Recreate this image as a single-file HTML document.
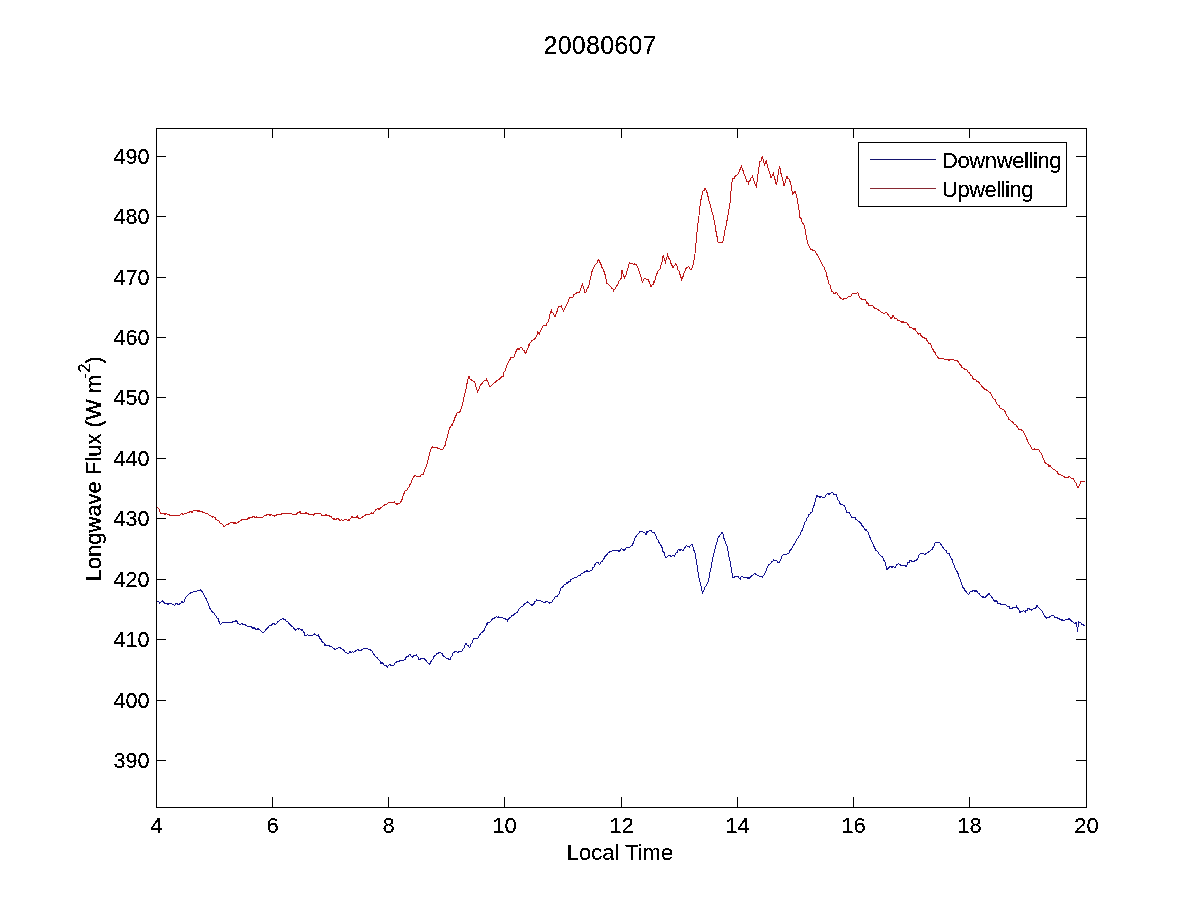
<!DOCTYPE html>
<html><head><meta charset="utf-8"><title>20080607</title>
<style>html,body{margin:0;padding:0;background:#fff;width:1200px;height:900px;overflow:hidden}</style>
</head><body><svg width="1200" height="900" viewBox="0 0 1200 900" style="display:block"><defs><filter id="al" x="0" y="0" width="1200" height="900" filterUnits="userSpaceOnUse" color-interpolation-filters="sRGB"><feComponentTransfer><feFuncA type="discrete" tableValues="0 0 1 1 1"/></feComponentTransfer></filter></defs><rect width="1200" height="900" fill="#fff"/><rect x="156.5" y="128.5" width="930" height="679" fill="#fff" stroke="#000" stroke-width="1"/><path d="M156 156.5H166M1076 156.5H1086M156 216.5H166M1076 216.5H1086M156 277.5H166M1076 277.5H1086M156 337.5H166M1076 337.5H1086M156 397.5H166M1076 397.5H1086M156 458.5H166M1076 458.5H1086M156 518.5H166M1076 518.5H1086M156 579.5H166M1076 579.5H1086M156 639.5H166M1076 639.5H1086M156 700.5H166M1076 700.5H1086M156 760.5H166M1076 760.5H1086M156.5 797V807M156.5 129V138M272.5 797V807M272.5 129V138M388.5 797V807M388.5 129V138M504.5 797V807M504.5 129V138M621.5 797V807M621.5 129V138M737.5 797V807M737.5 129V138M853.5 797V807M853.5 129V138M969.5 797V807M969.5 129V138M1086.5 797V807M1086.5 129V138" stroke="#000" stroke-width="1" fill="none" shape-rendering="crispEdges"/><path d="M156.9 600.7 L157.0 601.1 L158.0 601.9 L159.0 602.0 L159.4 603.2 L160.0 602.9 L161.0 601.7 L162.0 601.6 L162.5 601.1 L163.0 601.6 L164.0 602.5 L165.0 603.7 L165.6 603.9 L166.0 603.9 L167.0 603.7 L168.0 604.2 L169.0 603.8 L170.0 603.7 L171.0 603.6 L172.0 604.2 L173.0 604.6 L174.0 604.7 L174.4 605.2 L175.0 605.4 L176.0 603.4 L177.0 603.7 L178.0 604.4 L178.8 604.3 L179.0 604.3 L180.0 603.4 L181.0 603.4 L181.9 601.3 L182.0 601.4 L183.0 603.1 L183.8 602.6 L184.0 602.2 L185.0 598.9 L185.6 597.3 L186.0 597.2 L187.0 596.3 L188.0 594.7 L189.0 594.1 L190.0 593.5 L191.0 592.5 L192.0 592.4 L193.0 592.0 L194.0 591.5 L194.4 591.2 L195.0 591.5 L196.0 591.6 L197.0 591.2 L197.5 590.9 L198.0 591.2 L199.0 590.1 L200.0 590.4 L200.6 589.6 L201.0 590.7 L201.9 591.2 L202.0 590.8 L203.0 593.2 L204.0 595.2 L205.0 597.2 L206.0 598.4 L206.2 599.2 L207.0 601.2 L208.0 603.2 L209.0 605.8 L210.0 608.4 L210.6 609.2 L211.0 610.0 L212.0 611.8 L213.0 612.3 L214.0 613.3 L215.0 615.1 L216.0 616.3 L217.0 617.9 L218.0 618.5 L218.1 618.5 L219.0 621.4 L220.0 624.3 L221.0 624.2 L222.0 623.3 L223.0 621.7 L223.1 622.3 L224.0 622.9 L225.0 622.7 L226.0 622.0 L227.0 622.3 L227.5 622.3 L228.0 622.5 L229.0 622.7 L230.0 622.4 L231.0 622.2 L232.0 622.1 L232.5 622.4 L233.0 621.0 L234.0 621.7 L235.0 621.4 L236.0 620.4 L236.2 621.0 L237.0 621.5 L238.0 623.4 L238.8 623.7 L239.0 624.1 L240.0 624.4 L241.0 623.9 L242.0 623.3 L242.5 623.5 L243.0 624.9 L244.0 624.4 L245.0 624.6 L246.0 625.5 L246.2 625.6 L247.0 626.2 L248.0 626.1 L249.0 626.3 L250.0 626.2 L251.0 627.1 L251.2 626.7 L252.0 627.7 L253.0 628.6 L254.0 627.7 L255.0 628.6 L256.0 629.3 L257.0 630.3 L258.0 628.5 L258.8 628.8 L259.0 629.5 L260.0 629.8 L261.0 630.9 L262.0 631.9 L263.0 633.3 L263.1 633.0 L264.0 632.2 L265.0 630.9 L266.0 629.4 L267.0 628.6 L268.0 627.1 L268.1 627.5 L269.0 626.2 L270.0 625.5 L271.0 626.0 L272.0 624.4 L273.0 623.7 L273.8 623.2 L274.0 623.3 L275.0 625.0 L276.0 624.2 L277.0 623.1 L278.0 621.4 L278.8 621.4 L279.0 620.8 L280.0 619.9 L281.0 619.3 L282.0 618.9 L282.5 619.0 L283.0 618.5 L284.0 619.8 L285.0 619.3 L286.0 621.0 L287.0 622.0 L287.5 621.9 L288.0 622.1 L289.0 623.5 L290.0 624.7 L291.0 625.7 L291.2 625.9 L292.0 626.5 L293.0 627.1 L294.0 628.3 L295.0 629.4 L295.6 630.0 L296.0 629.7 L297.0 629.2 L297.5 628.5 L298.0 629.3 L299.0 628.8 L300.0 628.7 L301.0 629.8 L302.0 630.3 L302.5 629.8 L303.0 630.9 L304.0 632.4 L305.0 635.4 L306.0 635.6 L307.0 634.8 L308.0 635.1 L308.8 635.6 L309.0 634.8 L310.0 635.4 L311.0 634.8 L312.0 635.4 L313.0 635.1 L313.8 634.0 L314.0 634.5 L315.0 633.7 L316.0 635.2 L317.0 634.9 L318.0 635.2 L318.8 634.8 L319.0 636.5 L320.0 638.7 L321.0 639.4 L321.9 642.0 L322.0 641.6 L323.0 642.8 L324.0 643.0 L325.0 645.4 L325.6 644.9 L326.0 645.0 L327.0 645.6 L328.0 645.4 L329.0 645.8 L330.0 646.2 L331.0 646.8 L332.0 646.9 L333.0 647.9 L334.0 648.7 L335.0 649.3 L336.0 648.9 L337.0 648.1 L338.0 648.1 L338.8 647.2 L339.0 647.3 L340.0 647.7 L341.0 648.4 L342.0 648.7 L343.0 650.2 L343.1 649.8 L344.0 650.4 L345.0 651.8 L346.0 652.7 L347.0 653.1 L347.5 653.4 L348.0 653.6 L349.0 652.8 L350.0 651.7 L351.0 652.4 L352.0 651.9 L353.0 651.8 L353.8 652.5 L354.0 652.2 L355.0 651.5 L356.0 649.7 L356.2 650.5 L357.0 650.0 L358.0 649.6 L359.0 650.8 L360.0 650.5 L361.0 650.3 L362.0 649.5 L363.0 649.1 L364.0 648.8 L364.4 648.4 L365.0 648.9 L366.0 648.4 L367.0 648.4 L368.0 649.0 L368.8 649.1 L369.0 649.0 L370.0 649.4 L371.0 650.7 L371.2 650.3 L372.0 651.2 L373.0 653.3 L373.8 654.2 L374.0 654.7 L375.0 655.7 L376.0 657.3 L377.0 657.5 L378.0 658.7 L379.0 660.3 L380.0 660.9 L381.0 663.7 L382.0 662.6 L383.0 663.5 L384.0 665.2 L385.0 665.6 L386.0 665.2 L387.0 667.0 L387.5 667.0 L388.0 666.0 L389.0 664.8 L389.4 664.5 L390.0 664.2 L391.0 665.4 L392.0 665.8 L393.0 665.9 L393.1 666.0 L394.0 664.9 L395.0 663.2 L396.0 662.7 L396.2 661.9 L397.0 662.1 L398.0 661.5 L399.0 661.3 L400.0 660.5 L401.0 661.0 L401.2 660.9 L402.0 660.3 L403.0 660.0 L404.0 660.1 L405.0 659.9 L406.0 657.6 L406.2 657.5 L407.0 656.7 L408.0 656.8 L409.0 655.2 L410.0 654.4 L411.0 655.9 L412.0 656.2 L412.5 657.1 L413.0 656.3 L414.0 655.7 L415.0 655.5 L416.0 655.1 L416.2 654.8 L417.0 656.2 L418.0 656.9 L419.0 660.1 L419.4 660.0 L420.0 659.3 L421.0 658.6 L422.0 658.2 L422.5 658.1 L423.0 657.9 L424.0 658.6 L425.0 659.7 L426.0 660.2 L426.2 660.7 L427.0 662.1 L428.0 662.7 L429.0 664.2 L429.4 664.2 L430.0 663.7 L431.0 661.6 L432.0 660.2 L433.0 659.0 L433.8 656.6 L434.0 656.8 L435.0 655.4 L436.0 655.4 L437.0 653.6 L438.0 653.3 L439.0 652.8 L440.0 652.0 L441.0 652.9 L442.0 653.5 L442.5 654.3 L443.0 655.5 L444.0 656.3 L445.0 657.2 L446.0 658.3 L447.0 658.5 L448.0 659.1 L449.0 658.9 L450.0 659.5 L451.0 656.9 L452.0 655.7 L453.0 653.2 L453.8 652.0 L454.0 652.4 L455.0 651.5 L456.0 651.9 L457.0 651.9 L458.0 652.5 L458.8 652.0 L459.0 651.1 L460.0 651.4 L461.0 651.0 L462.0 651.1 L462.5 649.5 L463.0 648.7 L464.0 648.0 L465.0 645.1 L466.0 643.6 L466.2 643.8 L467.0 645.2 L468.0 645.5 L469.0 647.3 L469.4 647.5 L470.0 647.1 L471.0 644.3 L472.0 642.8 L473.0 639.8 L473.8 638.7 L474.0 638.7 L475.0 639.1 L476.0 638.6 L477.0 637.8 L477.5 638.2 L478.0 637.8 L479.0 636.0 L480.0 634.6 L481.0 633.3 L481.2 632.8 L482.0 632.5 L483.0 631.5 L484.0 630.0 L484.4 630.1 L485.0 627.8 L486.0 625.7 L486.9 623.7 L487.0 624.7 L488.0 622.2 L489.0 622.5 L490.0 622.0 L491.0 621.0 L491.2 620.8 L492.0 619.6 L493.0 618.2 L494.0 619.0 L495.0 617.3 L496.0 617.0 L496.9 616.3 L497.0 617.1 L498.0 617.3 L499.0 616.8 L500.0 617.6 L501.0 617.8 L502.0 617.8 L503.0 618.1 L504.0 618.2 L505.0 618.6 L506.0 619.5 L507.0 620.0 L507.5 620.8 L508.0 619.6 L509.0 618.5 L510.0 617.0 L511.0 617.0 L512.0 615.4 L513.0 615.9 L514.0 614.5 L515.0 613.7 L516.0 612.9 L517.0 613.0 L517.5 612.5 L518.0 611.1 L519.0 609.3 L520.0 608.0 L521.0 606.8 L522.0 606.7 L523.0 605.8 L523.8 604.5 L524.0 604.4 L525.0 603.4 L526.0 602.9 L527.0 602.7 L527.5 602.2 L528.0 602.8 L529.0 603.0 L530.0 604.0 L531.0 604.6 L531.9 605.5 L532.0 605.4 L533.0 604.2 L534.0 603.7 L535.0 601.5 L536.0 600.8 L536.2 600.0 L537.0 599.8 L538.0 600.7 L539.0 600.3 L540.0 599.9 L541.0 600.9 L542.0 601.5 L543.0 602.1 L543.1 602.2 L544.0 602.3 L545.0 602.3 L546.0 601.6 L547.0 601.9 L547.5 601.7 L548.0 602.3 L549.0 602.9 L550.0 603.1 L551.0 602.5 L552.0 601.9 L552.5 601.2 L553.0 600.3 L554.0 598.9 L555.0 597.1 L556.0 596.5 L557.0 597.0 L558.0 595.0 L558.1 595.1 L559.0 593.7 L560.0 590.8 L561.0 588.2 L561.2 587.9 L562.0 587.3 L563.0 586.5 L563.8 585.0 L564.0 585.0 L565.0 584.2 L566.0 584.1 L567.0 582.3 L567.5 583.1 L568.0 582.7 L569.0 581.2 L570.0 582.2 L571.0 579.6 L572.0 579.0 L573.0 578.1 L573.8 578.3 L574.0 577.6 L575.0 577.9 L576.0 577.5 L577.0 576.9 L578.0 575.7 L579.0 575.7 L580.0 575.9 L581.0 574.1 L582.0 573.4 L583.0 572.9 L584.0 572.5 L585.0 571.3 L586.0 571.6 L587.0 570.7 L588.0 571.7 L589.0 571.5 L590.0 571.0 L591.0 570.8 L592.0 569.9 L592.5 568.0 L593.0 567.6 L594.0 567.1 L595.0 564.6 L596.0 563.2 L597.0 562.4 L597.5 562.4 L598.0 562.6 L599.0 563.9 L600.0 564.4 L601.0 562.1 L602.0 561.4 L603.0 560.4 L604.0 558.5 L605.0 556.4 L606.0 555.3 L607.0 554.7 L608.0 552.8 L609.0 552.6 L610.0 551.2 L611.0 551.6 L612.0 551.1 L613.0 550.2 L613.8 550.6 L614.0 551.2 L615.0 550.2 L616.0 550.6 L617.0 550.6 L618.0 550.4 L618.8 551.4 L619.0 551.7 L620.0 550.4 L621.0 549.1 L621.2 548.7 L622.0 549.2 L623.0 549.3 L623.8 550.1 L624.0 550.3 L625.0 549.4 L626.0 547.8 L626.9 547.3 L627.0 547.2 L628.0 548.2 L629.0 547.5 L630.0 547.2 L631.0 546.2 L632.0 545.5 L633.0 543.4 L633.8 542.0 L634.0 541.4 L635.0 538.4 L636.0 536.5 L637.0 534.8 L637.5 534.4 L638.0 533.9 L639.0 532.9 L640.0 531.2 L641.0 532.1 L642.0 531.8 L643.0 531.9 L643.8 532.6 L644.0 532.4 L645.0 532.8 L645.6 534.8 L646.0 534.5 L647.0 531.6 L647.5 532.4 L648.0 532.1 L649.0 531.0 L650.0 530.5 L651.0 530.5 L651.2 530.5 L652.0 531.9 L653.0 532.3 L654.0 532.1 L655.0 533.6 L656.0 536.1 L657.0 538.7 L658.0 539.9 L658.8 541.3 L659.0 542.7 L660.0 543.7 L661.0 545.6 L661.9 547.3 L662.0 547.5 L663.0 551.6 L664.0 552.5 L665.0 555.9 L665.6 557.3 L666.0 557.3 L667.0 557.0 L668.0 555.8 L669.0 555.6 L669.4 555.1 L670.0 555.4 L671.0 556.3 L672.0 556.0 L673.0 555.7 L674.0 555.8 L674.4 556.1 L675.0 555.4 L676.0 553.1 L677.0 552.8 L678.0 550.5 L678.1 549.4 L679.0 549.5 L680.0 550.7 L681.0 549.2 L682.0 550.1 L683.0 551.1 L683.1 550.5 L684.0 548.9 L685.0 547.4 L686.0 546.3 L686.2 545.6 L687.0 546.1 L688.0 546.6 L689.0 546.7 L689.4 547.1 L690.0 546.0 L691.0 544.8 L691.9 544.5 L692.0 544.2 L693.0 547.2 L694.0 550.5 L695.0 552.5 L696.0 558.7 L697.0 564.9 L698.0 571.6 L699.0 578.2 L700.0 582.3 L701.0 586.1 L702.0 590.9 L702.7 594.3 L703.0 592.1 L704.0 590.0 L705.0 586.7 L706.0 585.9 L707.0 584.2 L707.7 583.4 L708.0 582.2 L709.0 578.1 L710.0 572.2 L711.0 567.7 L712.0 562.0 L713.0 556.7 L714.0 553.5 L715.0 549.2 L716.0 544.9 L717.0 542.3 L718.0 538.3 L718.3 536.9 L719.0 536.7 L720.0 534.7 L721.0 534.4 L722.0 532.6 L722.3 532.8 L723.0 534.2 L724.0 538.4 L725.0 540.6 L726.0 544.1 L727.0 546.2 L728.0 551.3 L729.0 557.2 L730.0 560.6 L731.0 566.7 L732.0 573.0 L733.0 577.8 L734.0 577.8 L735.0 576.7 L736.0 576.7 L736.3 576.2 L737.0 576.1 L738.0 576.6 L739.0 577.8 L740.0 578.5 L740.3 578.9 L741.0 576.7 L742.0 576.7 L743.0 576.9 L744.0 577.4 L745.0 577.3 L746.0 577.4 L747.0 577.0 L747.7 578.6 L748.0 577.6 L749.0 578.3 L750.0 577.6 L751.0 576.4 L752.0 575.3 L753.0 575.0 L754.0 573.8 L755.0 573.7 L756.0 574.3 L757.0 575.2 L758.0 576.0 L758.3 576.0 L759.0 575.9 L760.0 577.1 L761.0 576.7 L762.0 577.1 L762.3 577.6 L763.0 575.8 L764.0 574.8 L765.0 572.8 L766.0 570.9 L767.0 568.3 L768.0 566.4 L768.3 565.6 L769.0 564.4 L770.0 564.2 L771.0 563.1 L772.0 561.4 L773.0 561.3 L773.7 560.0 L774.0 560.3 L775.0 560.5 L776.0 560.9 L777.0 561.0 L778.0 562.4 L779.0 562.4 L780.0 561.1 L781.0 558.7 L782.0 556.2 L783.0 554.9 L784.0 554.2 L785.0 554.7 L786.0 554.9 L787.0 554.2 L788.0 553.5 L788.3 553.6 L789.0 552.7 L790.0 550.3 L791.0 549.5 L792.0 547.9 L793.0 545.9 L794.0 544.4 L795.0 543.0 L796.0 540.8 L797.0 539.0 L798.0 538.0 L799.0 535.9 L800.0 534.9 L801.0 531.7 L801.7 530.7 L802.0 530.7 L803.0 528.4 L804.0 525.1 L805.0 522.3 L806.0 520.7 L807.0 518.0 L808.0 516.8 L809.0 514.6 L810.0 514.3 L811.0 512.1 L811.7 512.3 L812.0 512.1 L813.0 508.1 L814.0 505.5 L815.0 501.6 L816.0 498.4 L817.0 495.5 L818.0 496.5 L819.0 496.3 L820.0 497.5 L821.0 496.4 L822.0 497.2 L823.0 497.7 L824.0 497.5 L825.0 496.9 L826.0 494.8 L827.0 494.1 L828.0 493.1 L829.0 494.4 L830.0 493.4 L831.0 492.8 L831.7 493.0 L832.0 491.8 L833.0 492.7 L834.0 494.4 L835.0 494.6 L836.0 494.9 L836.3 494.8 L837.0 496.9 L838.0 499.8 L839.0 500.6 L840.0 503.6 L840.3 504.2 L841.0 504.8 L841.9 505.0 L842.0 504.9 L843.0 504.8 L844.0 505.5 L844.4 505.5 L845.0 507.3 L846.0 510.3 L846.9 513.2 L847.0 512.7 L848.0 512.2 L848.8 512.1 L849.0 512.2 L850.0 514.0 L851.0 516.3 L851.9 517.5 L852.0 517.5 L853.0 517.6 L854.0 516.9 L855.0 517.6 L856.0 519.4 L857.0 520.2 L857.5 520.4 L858.0 521.1 L859.0 521.4 L860.0 522.6 L861.0 523.6 L861.2 523.6 L862.0 525.6 L863.0 526.5 L863.8 527.9 L864.0 528.3 L865.0 529.5 L866.0 530.4 L866.2 529.8 L867.0 531.3 L868.0 532.0 L869.0 534.6 L869.4 535.7 L870.0 537.5 L871.0 540.1 L872.0 541.7 L872.5 543.1 L873.0 544.0 L874.0 546.5 L875.0 548.4 L875.6 548.7 L876.0 551.2 L877.0 550.7 L878.0 552.0 L879.0 553.9 L880.0 555.1 L881.0 556.0 L882.0 556.2 L882.5 557.1 L883.0 557.9 L884.0 560.6 L884.4 560.8 L885.0 562.1 L886.0 565.7 L886.9 569.2 L887.0 569.4 L888.0 568.3 L889.0 567.4 L890.0 566.1 L891.0 566.7 L892.0 567.4 L893.0 566.3 L894.0 567.1 L895.0 567.5 L896.0 566.0 L897.0 564.6 L898.0 564.1 L898.1 563.3 L899.0 564.1 L900.0 564.3 L901.0 565.8 L902.0 565.2 L903.0 565.0 L904.0 565.4 L905.0 565.6 L906.0 567.2 L906.2 566.3 L907.0 565.1 L908.0 562.5 L909.0 562.5 L910.0 560.4 L911.0 560.4 L912.0 561.6 L913.0 561.2 L913.8 562.0 L914.0 562.3 L915.0 560.2 L916.0 560.5 L916.9 559.8 L917.0 559.8 L918.0 558.2 L919.0 555.1 L920.0 554.0 L921.0 553.5 L922.0 553.0 L922.5 553.5 L923.0 554.2 L924.0 553.7 L925.0 555.0 L926.0 553.2 L927.0 553.4 L927.5 552.3 L928.0 551.8 L929.0 552.2 L930.0 551.1 L931.0 549.8 L932.0 549.7 L933.0 547.5 L933.1 547.7 L934.0 545.8 L935.0 543.3 L935.6 542.5 L936.0 542.6 L937.0 542.5 L938.0 542.4 L939.0 542.6 L940.0 542.9 L941.0 544.5 L942.0 546.0 L943.0 547.5 L943.8 547.8 L944.0 548.8 L945.0 549.8 L946.0 550.5 L946.9 552.5 L947.0 552.9 L948.0 553.3 L949.0 553.9 L949.4 553.9 L950.0 555.7 L951.0 557.9 L952.0 559.4 L953.0 562.7 L953.8 565.1 L954.0 565.3 L955.0 567.8 L956.0 569.9 L957.0 571.5 L957.5 572.8 L958.0 573.4 L959.0 577.1 L960.0 579.2 L961.0 581.8 L962.0 585.3 L963.0 587.5 L963.1 588.2 L964.0 588.6 L965.0 590.5 L966.0 591.3 L967.0 592.9 L968.0 594.1 L968.1 594.2 L969.0 593.9 L970.0 592.1 L971.0 591.3 L972.0 591.4 L973.0 590.6 L973.1 590.1 L974.0 590.5 L975.0 592.0 L976.0 590.6 L977.0 591.3 L977.5 591.7 L978.0 592.9 L979.0 593.6 L980.0 595.1 L981.0 596.1 L982.0 596.6 L982.5 597.1 L983.0 596.6 L984.0 598.0 L985.0 597.2 L986.0 596.8 L986.2 596.4 L987.0 595.6 L988.0 594.5 L989.0 593.5 L989.1 593.2 L990.0 594.8 L991.0 595.9 L992.0 597.6 L993.0 598.8 L994.0 600.5 L994.4 600.6 L995.0 601.4 L996.0 600.3 L997.0 601.6 L998.0 603.6 L999.0 602.8 L999.2 603.5 L1000.0 604.2 L1001.0 603.8 L1002.0 605.0 L1003.0 604.9 L1004.0 604.4 L1005.0 604.9 L1006.0 605.0 L1007.0 606.1 L1007.8 606.3 L1008.0 606.6 L1009.0 606.4 L1010.0 608.7 L1011.0 607.9 L1011.6 608.3 L1012.0 608.4 L1013.0 607.6 L1014.0 607.0 L1015.0 607.0 L1016.0 607.0 L1016.4 606.4 L1017.0 607.7 L1018.0 608.5 L1019.0 609.9 L1020.0 612.8 L1020.2 612.1 L1021.0 611.9 L1022.0 611.6 L1023.0 611.5 L1023.1 610.5 L1024.0 611.0 L1025.0 611.6 L1025.5 612.1 L1026.0 610.4 L1027.0 610.7 L1028.0 608.4 L1029.0 609.1 L1029.4 608.7 L1030.0 609.3 L1031.0 609.1 L1031.8 610.3 L1032.0 609.6 L1033.0 608.9 L1034.0 608.4 L1035.0 607.9 L1035.1 608.3 L1036.0 607.7 L1037.0 605.2 L1037.5 605.6 L1038.0 606.8 L1039.0 607.8 L1040.0 609.2 L1041.0 609.6 L1041.3 610.8 L1042.0 610.9 L1043.0 613.1 L1044.0 615.0 L1045.0 616.7 L1046.0 617.3 L1046.6 618.0 L1047.0 617.5 L1048.0 617.4 L1049.0 617.6 L1050.0 616.6 L1051.0 615.8 L1051.4 615.3 L1052.0 615.7 L1053.0 616.1 L1053.8 615.8 L1054.0 615.8 L1055.0 617.4 L1056.0 617.4 L1057.0 617.8 L1057.6 618.1 L1058.0 618.1 L1059.0 618.6 L1060.0 619.8 L1061.0 619.1 L1062.0 620.7 L1063.0 619.7 L1063.4 620.2 L1064.0 620.6 L1065.0 619.9 L1066.0 619.4 L1067.0 619.6 L1068.0 619.8 L1069.0 618.5 L1069.6 619.3 L1070.0 619.6 L1071.0 620.4 L1072.0 621.8 L1073.0 622.1 L1074.0 623.1 L1074.4 623.6 L1075.0 623.6 L1076.0 622.6 L1076.3 622.8 L1077.0 626.8 L1077.6 631.5 L1078.0 627.6 L1078.7 622.2 L1079.0 622.4 L1080.0 623.2 L1080.1 622.3 L1081.0 623.3 L1081.6 624.5 L1082.0 624.4 L1083.0 624.6 L1084.0 625.8 L1085.0 626.1" fill="none" stroke="#141490" stroke-width="1" shape-rendering="crispEdges"/><path d="M156.9 506.9 L157.0 506.8 L158.0 508.3 L159.0 508.7 L160.0 512.2 L161.0 513.3 L161.2 513.1 L162.0 513.6 L163.0 513.6 L164.0 513.3 L165.0 514.3 L166.0 513.8 L166.2 514.0 L167.0 513.8 L168.0 514.7 L169.0 514.7 L170.0 515.3 L171.0 515.0 L172.0 515.7 L173.0 515.4 L173.1 516.0 L174.0 515.9 L175.0 515.8 L176.0 515.7 L177.0 514.9 L178.0 515.7 L179.0 516.2 L180.0 514.8 L181.0 513.8 L182.0 513.6 L183.0 514.5 L184.0 513.8 L185.0 514.0 L186.0 513.5 L186.2 513.1 L187.0 513.1 L188.0 512.6 L189.0 512.9 L190.0 511.6 L191.0 511.7 L191.2 511.9 L192.0 512.5 L193.0 510.8 L194.0 510.3 L195.0 510.3 L196.0 511.0 L197.0 510.6 L198.0 511.5 L199.0 510.0 L200.0 511.6 L201.0 511.7 L201.2 511.0 L202.0 511.6 L203.0 512.5 L204.0 512.3 L205.0 513.1 L206.0 514.2 L206.2 513.1 L207.0 513.4 L208.0 513.8 L209.0 515.1 L210.0 515.3 L211.0 515.9 L212.0 516.5 L212.5 517.0 L213.0 516.7 L214.0 517.1 L215.0 517.3 L216.0 519.8 L217.0 519.9 L218.0 521.3 L218.1 520.6 L219.0 521.2 L220.0 522.8 L221.0 523.6 L222.0 524.0 L223.0 525.3 L223.8 526.8 L224.0 526.5 L225.0 526.0 L226.0 525.0 L227.0 524.2 L228.0 524.4 L228.8 523.5 L229.0 523.0 L230.0 523.0 L231.0 522.3 L232.0 522.5 L232.5 522.4 L233.0 522.0 L234.0 523.5 L235.0 522.7 L236.0 523.5 L236.2 523.4 L237.0 523.0 L238.0 522.5 L239.0 521.7 L240.0 521.0 L241.0 520.4 L241.2 520.5 L242.0 519.5 L243.0 519.7 L244.0 519.7 L245.0 519.5 L246.0 519.0 L247.0 519.5 L248.0 518.0 L248.8 517.4 L249.0 518.4 L250.0 516.9 L251.0 517.8 L252.0 516.8 L253.0 517.3 L254.0 516.1 L255.0 517.4 L256.0 516.8 L256.2 516.8 L257.0 517.8 L258.0 517.5 L259.0 517.3 L260.0 517.0 L261.0 517.4 L261.2 517.5 L262.0 517.6 L263.0 517.2 L264.0 516.0 L265.0 515.7 L266.0 515.3 L267.0 514.4 L268.0 514.4 L268.8 514.4 L269.0 514.8 L270.0 515.3 L271.0 514.4 L272.0 515.2 L273.0 514.9 L274.0 516.3 L275.0 515.4 L276.0 515.5 L277.0 514.6 L278.0 514.4 L279.0 514.7 L280.0 514.3 L281.0 514.4 L282.0 513.3 L283.0 514.2 L284.0 513.2 L285.0 513.8 L286.0 513.4 L287.0 514.2 L288.0 513.1 L289.0 514.1 L290.0 513.5 L291.0 513.8 L292.0 514.1 L293.0 514.1 L294.0 514.4 L295.0 514.5 L296.0 514.3 L297.0 513.5 L298.0 512.4 L299.0 512.3 L299.4 512.5 L300.0 511.6 L301.0 513.4 L302.0 513.2 L302.5 513.5 L303.0 513.9 L304.0 513.7 L305.0 513.4 L306.0 512.7 L307.0 513.3 L307.5 513.2 L308.0 512.9 L309.0 514.4 L310.0 514.6 L311.0 513.9 L311.2 515.0 L312.0 514.2 L313.0 515.2 L314.0 514.8 L315.0 513.6 L316.0 513.5 L317.0 513.8 L318.0 513.4 L319.0 514.1 L320.0 513.2 L321.0 514.0 L322.0 515.4 L322.5 515.3 L323.0 515.7 L324.0 515.9 L325.0 515.2 L326.0 514.8 L327.0 515.3 L327.5 515.3 L328.0 515.4 L329.0 515.4 L330.0 517.3 L331.0 516.3 L332.0 518.1 L333.0 518.2 L333.8 519.1 L334.0 518.6 L335.0 519.8 L336.0 519.4 L337.0 518.5 L338.0 518.5 L339.0 519.4 L340.0 520.4 L341.0 519.9 L342.0 520.0 L342.5 520.0 L343.0 520.3 L344.0 520.0 L345.0 519.9 L346.0 519.2 L347.0 520.2 L348.0 520.2 L348.8 519.2 L349.0 520.4 L350.0 518.9 L351.0 517.7 L352.0 516.3 L352.5 517.0 L353.0 517.4 L354.0 517.3 L355.0 517.8 L356.0 517.7 L357.0 515.8 L357.5 515.5 L358.0 517.6 L359.0 518.4 L360.0 518.6 L361.0 517.8 L362.0 517.8 L363.0 515.8 L363.1 516.9 L364.0 516.1 L365.0 515.3 L366.0 514.7 L366.9 515.1 L367.0 515.0 L368.0 514.8 L369.0 514.9 L370.0 513.7 L371.0 513.3 L372.0 512.7 L372.5 513.4 L373.0 513.4 L374.0 511.9 L375.0 511.3 L376.0 509.4 L376.2 509.7 L377.0 509.0 L378.0 508.3 L379.0 509.4 L380.0 508.5 L381.0 507.2 L381.2 507.4 L382.0 507.0 L383.0 505.7 L384.0 506.0 L385.0 504.5 L386.0 504.4 L386.2 504.2 L387.0 503.9 L388.0 503.1 L389.0 502.6 L390.0 502.5 L391.0 502.3 L391.2 502.5 L392.0 502.4 L393.0 502.9 L394.0 502.4 L394.4 501.9 L395.0 502.9 L396.0 503.2 L396.9 504.6 L397.0 504.6 L398.0 503.1 L399.0 503.6 L400.0 503.0 L401.0 500.7 L401.2 501.8 L402.0 499.5 L403.0 496.0 L404.0 493.6 L405.0 491.1 L406.0 490.8 L407.0 489.9 L407.5 489.8 L408.0 488.2 L409.0 487.1 L410.0 484.6 L411.0 482.8 L412.0 480.2 L413.0 477.9 L414.0 476.5 L415.0 475.1 L416.0 476.1 L417.0 476.0 L418.0 476.2 L418.8 476.1 L419.0 476.9 L420.0 476.4 L421.0 475.0 L422.0 474.8 L423.0 473.9 L423.1 474.6 L424.0 472.2 L425.0 469.2 L426.0 466.8 L427.0 464.1 L427.5 462.4 L428.0 459.9 L429.0 455.9 L430.0 451.6 L431.0 448.7 L431.2 447.8 L432.0 446.7 L433.0 447.7 L434.0 447.9 L435.0 447.3 L436.0 448.0 L437.0 447.4 L438.0 448.6 L438.8 448.0 L439.0 448.3 L440.0 449.1 L441.0 449.1 L442.0 449.0 L442.2 449.9 L443.0 449.1 L444.0 447.1 L445.0 445.6 L446.0 441.1 L447.0 437.8 L448.0 434.2 L449.0 429.9 L449.4 428.6 L450.0 427.5 L451.0 425.8 L452.0 424.3 L452.3 424.9 L453.0 422.8 L454.0 420.6 L455.0 417.6 L456.0 415.5 L456.6 413.3 L457.0 412.8 L458.0 412.8 L459.0 412.8 L459.5 411.9 L460.0 411.5 L461.0 408.7 L462.0 406.0 L462.4 404.4 L463.0 402.0 L464.0 397.1 L465.0 393.4 L465.3 392.0 L466.0 388.7 L467.0 383.6 L468.0 379.1 L468.6 376.2 L469.0 376.1 L470.0 379.0 L471.0 379.4 L471.1 380.3 L472.0 380.8 L473.0 381.1 L474.0 381.4 L475.0 383.3 L476.0 386.9 L477.0 389.8 L477.6 391.6 L478.0 390.5 L479.0 388.9 L480.0 386.1 L481.0 384.5 L481.2 384.1 L482.0 383.7 L483.0 381.8 L484.0 380.8 L485.0 380.4 L486.0 379.9 L486.2 378.9 L487.0 380.6 L488.0 382.3 L489.0 385.1 L489.9 386.5 L490.0 387.2 L491.0 386.0 L492.0 384.8 L492.7 384.8 L493.0 384.1 L494.0 382.8 L495.0 382.9 L496.0 381.5 L496.4 380.4 L497.0 381.2 L498.0 379.9 L499.0 378.7 L499.2 379.2 L500.0 378.6 L501.0 377.7 L502.0 376.5 L502.9 377.0 L503.0 376.8 L504.0 372.3 L505.0 370.7 L506.0 367.7 L506.5 365.7 L507.0 365.0 L508.0 363.0 L509.0 361.0 L510.0 359.4 L510.8 358.4 L511.0 357.4 L512.0 358.0 L513.0 357.8 L513.7 357.4 L514.0 356.6 L515.0 353.7 L516.0 351.5 L517.0 349.5 L517.3 348.8 L518.0 348.2 L519.0 349.9 L520.0 347.8 L521.0 347.8 L521.6 347.6 L522.0 347.9 L523.0 350.0 L524.0 350.4 L525.0 352.5 L526.0 353.3 L527.0 349.6 L528.0 347.7 L528.9 344.4 L529.0 345.8 L530.0 343.2 L531.0 341.9 L532.0 340.4 L532.5 340.6 L533.0 340.2 L534.0 339.3 L535.0 338.5 L535.6 338.6 L536.0 337.3 L537.0 334.9 L537.5 332.2 L538.0 332.7 L539.0 333.5 L539.4 334.2 L540.0 332.2 L541.0 329.7 L542.0 327.9 L542.5 326.2 L543.0 325.8 L544.0 326.1 L545.0 325.6 L546.0 325.0 L546.2 325.1 L547.0 323.1 L548.0 321.8 L548.8 320.1 L549.0 318.7 L550.0 314.1 L551.0 311.2 L551.2 309.4 L552.0 312.4 L553.0 312.6 L554.0 315.3 L555.0 316.8 L556.0 314.2 L557.0 311.6 L558.0 308.0 L558.8 306.2 L559.0 306.3 L560.0 306.0 L561.0 306.0 L561.2 305.8 L562.0 307.7 L563.0 309.7 L563.8 311.2 L564.0 310.1 L565.0 308.1 L566.0 306.0 L567.0 304.4 L568.0 301.7 L569.0 299.1 L570.0 297.6 L571.0 297.1 L572.0 297.1 L572.5 297.5 L573.0 297.1 L574.0 294.5 L575.0 293.9 L575.6 293.8 L576.0 293.4 L577.0 292.6 L578.0 292.3 L579.0 292.8 L579.4 291.8 L580.0 290.8 L581.0 288.4 L582.0 285.4 L582.5 284.5 L583.0 285.9 L584.0 289.3 L585.0 292.9 L586.0 291.7 L587.0 289.3 L588.0 287.4 L588.1 287.3 L589.0 284.8 L590.0 280.3 L591.0 275.9 L592.0 271.6 L592.5 269.8 L593.0 269.1 L594.0 267.1 L595.0 264.8 L596.0 264.2 L597.0 262.7 L598.0 260.5 L598.8 259.9 L599.0 260.3 L600.0 262.6 L601.0 264.4 L601.2 264.8 L602.0 267.4 L603.0 269.0 L604.0 271.7 L604.4 272.1 L605.0 274.5 L606.0 279.2 L606.9 283.2 L607.0 283.6 L608.0 284.1 L609.0 284.9 L610.0 286.3 L611.0 287.2 L612.0 288.6 L613.0 289.2 L613.8 291.3 L614.0 290.3 L615.0 288.7 L616.0 287.1 L617.0 285.5 L617.5 284.7 L618.0 283.7 L619.0 281.2 L620.0 280.3 L621.0 278.2 L621.2 278.2 L621.9 270.5 L622.0 270.5 L623.0 273.6 L624.0 276.6 L624.4 277.8 L625.0 276.6 L626.0 274.9 L626.2 274.6 L627.0 271.4 L628.0 267.6 L629.0 264.3 L629.4 262.6 L630.0 263.4 L631.0 263.2 L632.0 263.1 L633.0 264.1 L634.0 264.4 L634.4 263.7 L635.0 264.4 L636.0 264.5 L637.0 266.2 L637.5 266.8 L638.0 268.3 L639.0 271.2 L640.0 274.3 L641.0 277.3 L642.0 280.6 L642.5 281.9 L643.0 280.9 L644.0 279.0 L645.0 278.3 L646.0 279.3 L647.0 278.9 L647.5 279.5 L648.0 279.6 L649.0 281.4 L650.0 283.8 L651.0 286.5 L651.2 286.1 L652.0 284.8 L653.0 284.6 L654.0 281.5 L654.4 282.0 L655.0 280.0 L656.0 276.2 L656.9 273.1 L657.0 274.3 L658.0 271.1 L659.0 270.1 L660.0 268.8 L660.6 268.0 L661.0 265.4 L662.0 261.9 L663.0 256.2 L663.1 255.3 L664.0 257.7 L665.0 261.0 L665.6 262.6 L666.0 260.1 L667.0 256.7 L667.5 254.8 L668.0 256.1 L669.0 258.5 L670.0 259.8 L671.0 264.1 L671.2 263.8 L672.0 265.6 L673.0 267.4 L673.8 266.9 L674.0 265.9 L675.0 265.2 L675.6 263.7 L676.0 264.4 L677.0 266.3 L678.0 269.8 L678.8 270.5 L679.0 270.7 L680.0 274.5 L681.0 277.4 L681.6 279.9 L682.0 278.9 L683.0 276.5 L683.1 276.9 L684.0 273.4 L685.0 270.7 L685.4 269.2 L686.0 268.4 L687.0 267.5 L688.0 267.2 L688.6 266.8 L689.0 267.2 L690.0 268.7 L690.9 269.8 L691.0 269.8 L692.0 267.9 L693.0 265.2 L693.2 265.0 L694.0 260.5 L694.8 255.7 L695.0 253.7 L696.0 243.1 L697.0 232.0 L697.1 230.8 L698.0 222.8 L699.0 215.6 L700.0 206.6 L700.2 204.3 L701.0 199.6 L702.0 195.5 L702.6 191.4 L703.0 190.9 L704.0 190.6 L705.0 188.4 L705.7 188.6 L706.0 190.1 L707.0 192.4 L708.0 196.5 L708.8 199.9 L709.0 201.1 L710.0 203.9 L711.0 207.9 L712.0 212.2 L713.0 214.9 L713.5 216.7 L714.0 219.7 L715.0 225.1 L716.0 231.5 L717.0 236.5 L718.0 241.6 L718.1 243.0 L719.0 242.2 L720.0 242.5 L721.0 242.4 L722.0 242.3 L722.8 241.8 L723.0 241.1 L724.0 235.8 L725.0 230.1 L726.0 225.8 L726.7 222.4 L727.0 220.6 L728.0 215.0 L729.0 208.8 L729.8 204.7 L730.0 203.2 L731.0 191.2 L732.0 182.1 L732.1 181.0 L733.0 178.5 L734.0 178.5 L735.0 176.5 L735.2 176.4 L736.0 175.3 L737.0 175.2 L738.0 174.2 L738.3 173.3 L739.0 172.1 L740.0 169.5 L741.0 167.5 L741.5 166.2 L742.0 167.8 L743.0 170.5 L743.8 173.4 L744.0 174.1 L745.0 176.1 L746.0 178.7 L747.0 181.6 L748.0 181.4 L748.5 183.5 L749.0 182.3 L750.0 180.6 L751.0 178.3 L752.0 177.2 L752.4 176.5 L753.0 178.0 L754.0 181.3 L755.0 184.1 L756.0 186.3 L756.2 188.3 L757.0 181.9 L758.0 174.1 L759.0 167.2 L759.4 163.9 L760.0 161.6 L761.0 160.8 L762.0 157.3 L762.5 157.0 L763.0 158.8 L764.0 162.8 L764.8 165.0 L765.0 164.4 L766.0 161.5 L766.4 160.8 L767.0 163.7 L768.0 167.7 L769.0 170.8 L770.0 174.0 L771.0 178.2 L772.0 175.9 L773.0 173.9 L773.4 173.3 L774.0 175.9 L775.0 179.5 L776.0 183.6 L776.5 185.2 L777.0 182.2 L778.0 174.8 L779.0 169.1 L779.6 166.3 L780.0 168.0 L781.0 173.4 L782.0 176.6 L782.7 179.6 L783.0 181.3 L784.0 185.5 L784.2 185.8 L785.0 183.4 L786.0 179.3 L787.0 176.4 L788.0 178.7 L789.0 178.9 L790.0 181.6 L790.5 182.0 L791.0 185.2 L792.0 191.0 L792.8 195.2 L793.0 193.7 L794.0 192.6 L795.0 191.1 L795.1 191.3 L796.0 193.9 L797.0 197.7 L797.5 199.7 L798.0 204.2 L799.0 210.2 L799.8 216.7 L800.0 217.6 L801.0 218.4 L802.0 221.8 L803.0 223.5 L804.0 225.1 L804.5 226.9 L805.0 229.1 L806.0 235.0 L807.0 240.4 L807.6 243.6 L808.0 244.2 L809.0 246.3 L810.0 247.9 L810.7 249.6 L811.0 250.2 L812.0 249.1 L813.0 250.7 L814.0 250.4 L815.0 251.0 L815.4 251.1 L816.0 252.7 L817.0 254.5 L818.0 256.2 L818.5 257.4 L819.0 258.3 L820.0 260.0 L821.0 262.0 L822.0 264.1 L822.4 264.4 L823.0 265.8 L824.0 267.2 L825.0 270.0 L826.0 272.1 L827.0 276.4 L827.5 277.4 L828.0 279.7 L829.0 283.7 L830.0 285.1 L831.0 289.1 L831.9 291.3 L832.0 291.1 L833.0 291.9 L833.8 293.2 L834.0 293.8 L835.0 293.4 L836.0 292.6 L837.0 292.9 L837.5 293.5 L838.0 295.0 L839.0 296.0 L840.0 297.5 L841.0 298.9 L842.0 299.0 L843.0 299.9 L843.1 300.0 L844.0 298.6 L845.0 299.2 L846.0 298.6 L847.0 298.3 L848.0 296.7 L848.8 296.8 L849.0 297.2 L850.0 296.2 L851.0 296.0 L852.0 294.1 L853.0 293.9 L853.1 293.6 L854.0 293.6 L855.0 293.0 L856.0 293.2 L857.0 293.2 L857.5 292.6 L858.0 292.6 L859.0 296.0 L860.0 297.8 L860.6 298.6 L861.0 298.5 L862.0 299.3 L863.0 299.9 L864.0 299.8 L865.0 299.6 L865.6 300.6 L866.0 301.1 L867.0 303.4 L868.0 302.7 L869.0 305.8 L869.4 305.3 L870.0 305.3 L871.0 306.1 L872.0 305.6 L872.5 305.7 L873.0 305.9 L874.0 307.5 L875.0 308.6 L876.0 308.3 L877.0 309.3 L878.0 309.4 L878.8 310.1 L879.0 310.8 L880.0 310.9 L881.0 311.9 L882.0 312.8 L882.5 312.8 L883.0 313.2 L884.0 313.1 L885.0 313.1 L886.0 312.5 L886.9 312.8 L887.0 313.1 L888.0 314.5 L889.0 316.2 L890.0 317.2 L891.0 318.5 L891.2 318.2 L892.0 317.7 L893.0 315.6 L893.1 315.7 L894.0 317.0 L895.0 318.8 L896.0 318.6 L897.0 318.9 L897.5 320.2 L898.0 319.9 L899.0 320.7 L900.0 321.1 L901.0 321.3 L901.2 322.1 L902.0 322.3 L903.0 321.8 L904.0 322.3 L905.0 322.1 L906.0 322.8 L906.2 322.4 L907.0 323.1 L908.0 324.5 L909.0 325.9 L910.0 327.5 L911.0 327.4 L912.0 328.1 L913.0 328.7 L913.8 329.1 L914.0 329.4 L915.0 328.5 L916.0 330.7 L917.0 331.8 L917.5 332.5 L918.0 333.7 L919.0 334.2 L920.0 333.5 L921.0 335.7 L922.0 336.5 L922.5 337.0 L923.0 337.8 L924.0 337.1 L925.0 338.3 L926.0 338.4 L927.0 340.4 L928.0 341.7 L929.0 343.8 L930.0 343.6 L931.0 344.9 L932.0 348.1 L933.0 349.4 L933.8 351.5 L934.0 351.2 L935.0 352.5 L936.0 355.0 L937.0 355.7 L938.0 357.6 L938.8 357.9 L939.0 359.0 L940.0 358.0 L941.0 358.9 L942.0 358.2 L943.0 358.1 L943.8 359.0 L944.0 359.1 L945.0 359.8 L946.0 359.2 L947.0 359.4 L948.0 359.3 L949.0 360.6 L950.0 358.9 L951.0 359.9 L952.0 359.4 L953.0 359.9 L954.0 359.8 L955.0 360.5 L956.0 360.1 L957.0 360.5 L958.0 361.5 L958.3 361.5 L959.0 363.1 L960.0 364.7 L961.0 365.4 L962.0 367.6 L962.5 367.9 L963.0 368.2 L964.0 368.6 L965.0 370.0 L966.0 369.4 L966.7 369.6 L967.0 369.7 L968.0 372.2 L969.0 372.2 L970.0 374.2 L971.0 375.7 L972.0 376.1 L973.0 378.5 L973.3 379.4 L974.0 379.5 L975.0 379.1 L976.0 380.2 L976.7 380.1 L977.0 381.4 L978.0 381.2 L979.0 382.6 L980.0 384.1 L981.0 385.2 L982.0 386.5 L983.0 387.7 L984.0 388.6 L984.2 389.0 L985.0 389.4 L986.0 389.5 L987.0 390.3 L988.0 391.1 L989.0 392.2 L990.0 392.6 L991.0 393.6 L992.0 395.8 L993.0 397.7 L994.0 398.9 L994.2 399.0 L995.0 399.3 L996.0 402.2 L997.0 403.7 L998.0 404.8 L999.0 405.5 L1000.0 407.7 L1001.0 408.9 L1002.0 409.0 L1003.0 409.7 L1004.0 409.7 L1004.2 410.9 L1005.0 411.3 L1006.0 414.2 L1007.0 415.9 L1008.0 417.2 L1009.0 419.6 L1009.2 419.1 L1010.0 420.2 L1011.0 421.1 L1012.0 421.7 L1013.0 422.3 L1014.0 423.9 L1015.0 424.3 L1016.0 425.3 L1017.0 426.5 L1018.0 427.8 L1019.0 430.1 L1019.2 429.2 L1020.0 429.6 L1021.0 429.8 L1022.0 430.3 L1023.0 430.6 L1023.3 431.7 L1024.0 433.2 L1025.0 434.8 L1026.0 436.8 L1027.0 439.5 L1028.0 441.6 L1028.3 442.3 L1029.0 443.8 L1030.0 445.3 L1031.0 446.8 L1032.0 448.8 L1032.5 449.1 L1033.0 449.9 L1034.0 448.7 L1035.0 449.4 L1036.0 449.5 L1037.0 449.1 L1037.5 449.2 L1038.0 449.1 L1039.0 450.2 L1040.0 452.1 L1041.0 453.0 L1041.7 454.3 L1042.0 455.0 L1043.0 457.8 L1044.0 460.1 L1045.0 462.5 L1046.0 463.3 L1047.0 463.8 L1048.0 464.5 L1049.0 466.5 L1050.0 465.3 L1051.0 466.9 L1051.7 467.6 L1052.0 468.0 L1053.0 469.3 L1054.0 469.8 L1055.0 469.8 L1056.0 471.2 L1057.0 471.5 L1058.0 473.6 L1059.0 474.7 L1059.2 474.1 L1060.0 474.9 L1061.0 475.0 L1062.0 475.1 L1063.0 476.1 L1064.0 476.1 L1065.0 477.4 L1066.0 477.4 L1067.0 477.5 L1068.0 477.6 L1069.0 476.7 L1070.0 476.7 L1071.0 477.9 L1072.0 479.0 L1073.0 478.3 L1074.0 480.3 L1075.0 481.8 L1076.0 483.1 L1077.0 485.8 L1078.0 488.1 L1078.3 488.0 L1079.0 486.3 L1080.0 483.9 L1080.8 481.7 L1081.0 480.9 L1082.0 481.8 L1083.0 481.2 L1084.0 481.8 L1085.0 481.6" fill="none" stroke="#bc1818" stroke-width="1" shape-rendering="crispEdges"/><g font-family="Liberation Sans" fill="#000" filter="url(#al)"><g font-size="22"><text x="149.5" y="164" text-anchor="end" font-size="21.6">490</text><text x="149.5" y="224" text-anchor="end" font-size="21.6">480</text><text x="149.5" y="285" text-anchor="end" font-size="21.6">470</text><text x="149.5" y="345" text-anchor="end" font-size="21.6">460</text><text x="149.5" y="405" text-anchor="end" font-size="21.6">450</text><text x="149.5" y="466" text-anchor="end" font-size="21.6">440</text><text x="149.5" y="526" text-anchor="end" font-size="21.6">430</text><text x="149.5" y="587" text-anchor="end" font-size="21.6">420</text><text x="149.5" y="647" text-anchor="end" font-size="21.6">410</text><text x="149.5" y="708" text-anchor="end" font-size="21.6">400</text><text x="149.5" y="768" text-anchor="end" font-size="21.6">390</text><text x="156.5" y="833" text-anchor="middle">4</text><text x="272.5" y="833" text-anchor="middle">6</text><text x="388.5" y="833" text-anchor="middle">8</text><text x="504.5" y="833" text-anchor="middle">10</text><text x="621.5" y="833" text-anchor="middle">12</text><text x="737.5" y="833" text-anchor="middle">14</text><text x="853.5" y="833" text-anchor="middle">16</text><text x="969.5" y="833" text-anchor="middle">18</text><text x="1086.5" y="833" text-anchor="middle">20</text></g><text font-size="25" x="600" y="54" text-anchor="middle" textLength="113" lengthAdjust="spacing">20080607</text><text font-size="22" x="620" y="860" text-anchor="middle">Local Time</text><text font-size="22" transform="translate(101 581.5) rotate(-90)">Longwave Flux (W m<tspan font-size="16" dy="-11" dx="-4">-</tspan><tspan font-size="16" dx="1">2</tspan><tspan dy="11">)</tspan></text></g><rect x="858.5" y="142.5" width="208" height="64" fill="#fff" stroke="#000" stroke-width="1" shape-rendering="crispEdges"/><path d="M870 159.5H936" stroke="#14146e" stroke-width="1" shape-rendering="crispEdges"/><path d="M870 188.5H936" stroke="#872832" stroke-width="1" shape-rendering="crispEdges"/><g font-family="Liberation Sans" fill="#000" filter="url(#al)"><text font-size="22" x="942" y="168" textLength="119.5" lengthAdjust="spacing">Downwelling</text><text font-size="22" x="942" y="197" textLength="91.4" lengthAdjust="spacing">Upwelling</text></g></svg></body></html>
